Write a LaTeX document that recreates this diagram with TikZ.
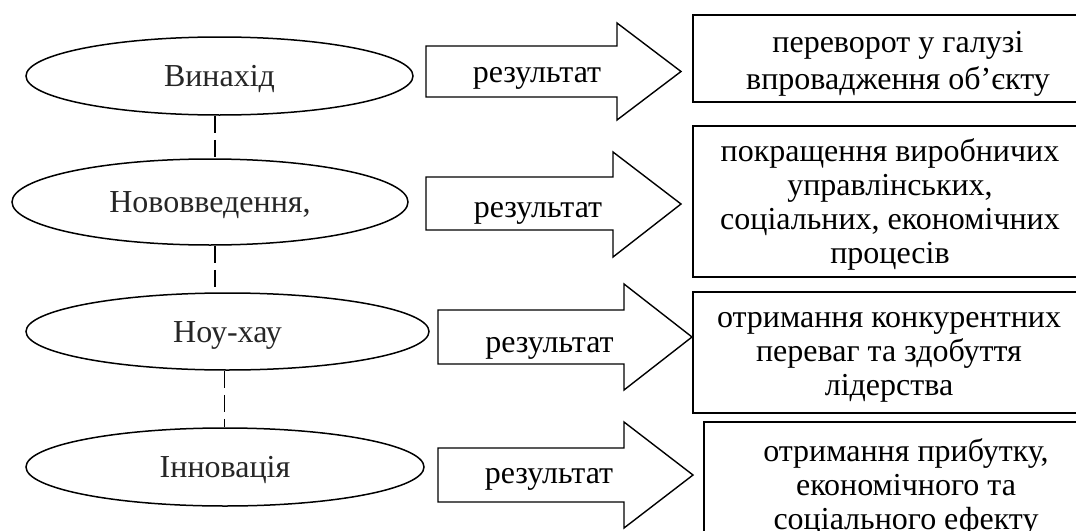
\documentclass[tikz,border=0pt]{standalone}
\usepackage{fontspec}
\setmainfont{Liberation Serif}
\usetikzlibrary{shapes.geometric}

\begin{document}
\begin{tikzpicture}[x=1pt,y=1pt,font=\fontsize{32}{34}\selectfont]
\tikzstyle{every node}+=[inner sep=0pt]
\tikzstyle{stage}=[draw, ellipse, line width=1.5pt, text=black!85, text height=21pt, text depth=0pt]
\tikzstyle{outcome}=[draw, rectangle, line width=2.4pt]
\tikzstyle{outtext}=[align=center]
\tikzstyle{reslabel}=[text height=21pt, text depth=0pt]
\tikzstyle{resarrow}=[draw, line width=1.4pt, line join=miter]
\tikzstyle{link}=[line width=1.4pt, dash pattern=on 17pt off 7pt]
\useasboundingbox (0,0) rectangle (1076,-530);
\clip (0,0) rectangle (1076,-530);
\node [stage, minimum width=387pt, minimum height=78pt] (vynakhid) at (219.5,-76) {Винахід};
\node [stage, minimum width=396pt, minimum height=86pt] (novovv) at (210,-202) {Нововведення,};
\node [stage, minimum width=403pt, minimum height=77pt] (nouhau) at (227.5,-331.5) {Ноу-хау};
\node [stage, minimum width=398pt, minimum height=78pt] (innov) at (225,-467) {Інновація};
\coordinate (x12) at (215,0);
\coordinate (x34) at (224.5,0);
\draw [link] (vynakhid.south -| x12) -- (novovv.north -| x12);
\draw [link] (novovv.south -| x12) -- (nouhau.north -| x12);
\draw [link] (nouhau.south -| x34) -- (innov.north -| x34);
\draw [resarrow] (426,-46) -- (617,-46) -- (617,-23) -- (681,-71.5) -- (617,-120) -- (617,-97) -- (426,-97) -- cycle;
\node [reslabel] (res1) at (537,-71.5) {результат};
\draw [resarrow] (426,-177) -- (613,-177) -- (613,-152) -- (681,-204) -- (613,-257) -- (613,-230) -- (426,-230) -- cycle;
\node [reslabel] (res2) at (538,-206.5) {результат};
\draw [resarrow] (438,-310) -- (624,-310) -- (624,-284) -- (692,-337) -- (624,-390) -- (624,-364) -- (438,-364) -- cycle;
\node [reslabel] (res3) at (549.5,-341.5) {результат};
\draw [resarrow] (438,-448) -- (624,-448) -- (624,-422) -- (693,-475) -- (624,-528) -- (624,-502) -- (438,-502) -- cycle;
\node [reslabel] (res4) at (549,-473) {результат};
\node [outcome, minimum width=410pt, minimum height=87pt] (perevorot) at (898,-58.5) {};
\node [outtext, font=\fontsize{32}{37}\selectfont] (perevorot-t) at ([yshift=-5pt]perevorot.center) {переворот у галузі\\впровадження об’єкту};
\node [outcome, minimum width=394pt, minimum height=151pt] (pokrashch) at (890,-201.5) {};
\node [outtext] (pokrashch-t) at ([yshift=-3pt]pokrashch.center) {покращення виробничих\\управлінських,\\соціальних, економічних\\процесів};
\node [outcome, minimum width=392pt, minimum height=121pt] (perevagy) at (889,-352.5) {};
\node [outtext] (perevagy-t) at ([yshift=-5pt]perevagy.center) {отримання конкурентних\\переваг та здобуття\\лідерства};
\node [outcome, minimum width=404pt, minimum height=124pt] (prybutok) at (906,-484) {};
\node [outtext] (prybutok-t) at ([yshift=-3pt]prybutok.center) {отримання прибутку,\\економічного та\\соціального ефекту};
\end{tikzpicture}
\end{document}
